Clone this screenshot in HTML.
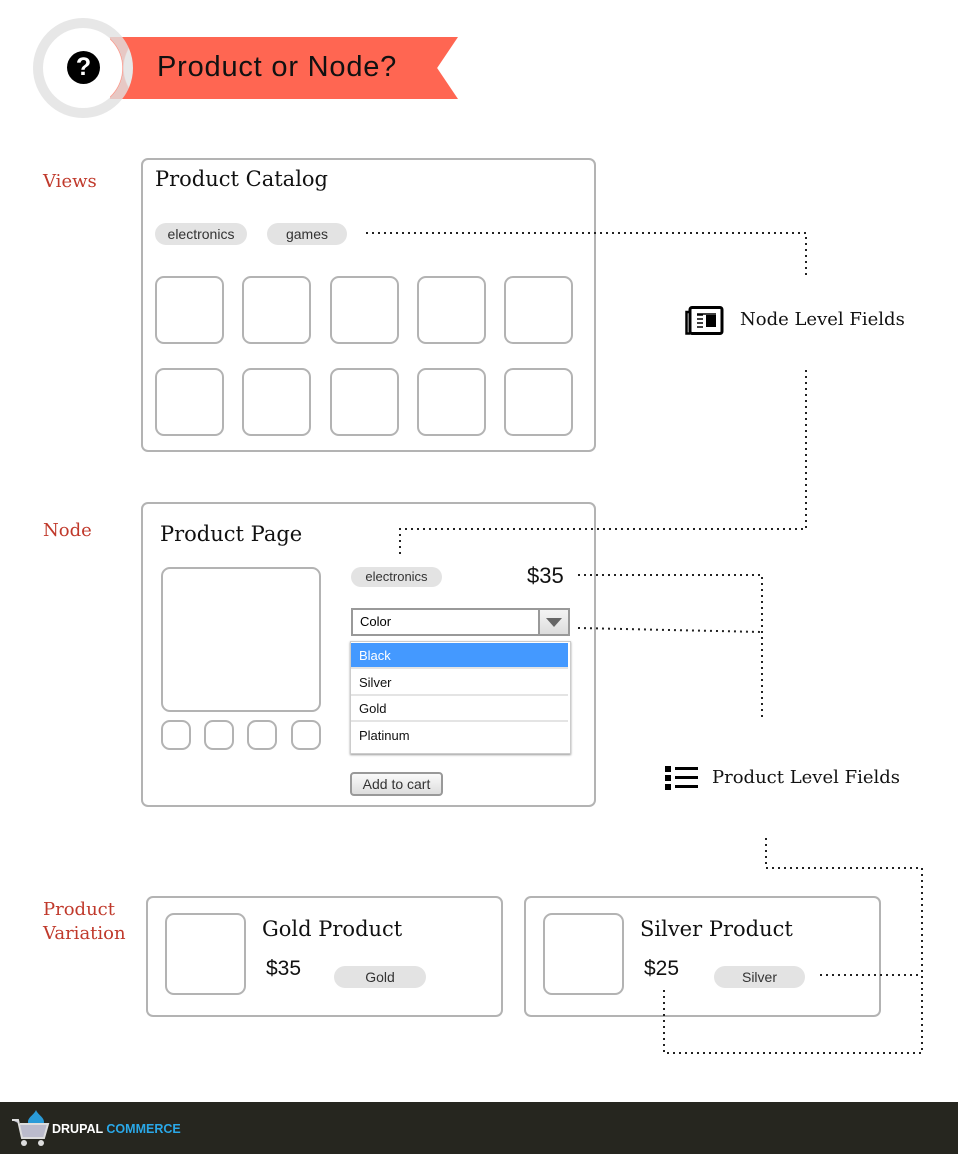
<!DOCTYPE html>
<html><head><meta charset="utf-8"><style>
body{margin:0;width:958px;height:1154px;position:relative;background:#fff;overflow:hidden;font-family:"Liberation Sans",sans-serif}
.a{position:absolute}
.box{position:absolute;border:2px solid #b3b3b3;border-radius:7px;box-sizing:border-box;background:#fff}
.t{position:absolute;border:2px solid #b3b3b3;border-radius:9px;box-sizing:border-box}
.lbl{position:absolute;color:#c0392b;font-family:"DejaVu Serif",serif;font-size:18px;line-height:24px}
.serif{font-family:"DejaVu Serif",serif;color:#111}
.pill{position:absolute;background:#e3e3e3;border-radius:11px;font-size:14px;color:#333;text-align:center;line-height:22px;height:22px}
.opt{position:absolute;left:351px;width:217px;height:26px;line-height:26px;font-size:13px;padding-left:8px;box-sizing:border-box;border-bottom:2px solid #e4e4e4;background:#fff;color:#111}
</style></head><body>
<div class="a" style="left:110px;top:37px;width:348px;height:62px;background:#ff6652;clip-path:polygon(0 0,100% 0,94% 50%,100% 100%,0 100%)"></div>
<div class="a" style="left:33px;top:18px;width:100px;height:100px;border-radius:50%;border:10px solid rgba(225,225,225,0.8);box-sizing:border-box;background:radial-gradient(circle,#fff 39px,transparent 40px)"></div>
<div class="a" style="left:67px;top:51px;width:33px;height:33px;border-radius:50%;background:#000;color:#fff;font-weight:bold;font-size:25px;text-align:center;line-height:33px">?</div>
<div class="a" style="left:157px;top:49px;font-size:29px;letter-spacing:0.8px;line-height:36px;color:#111">Product or Node?</div>

<div class="lbl" style="left:43px;top:170px">Views</div>
<div class="lbl" style="left:43px;top:519px">Node</div>
<div class="lbl" style="left:43px;top:898px">Product<br>Variation</div>

<div class="box" style="left:141px;top:158px;width:455px;height:294px"></div>
<div class="a serif" style="left:155px;top:167px;font-size:21px">Product Catalog</div>
<div class="pill" style="left:155px;top:223px;width:92px">electronics</div>
<div class="pill" style="left:267px;top:223px;width:80px">games</div>
<div class="t" style="left:155px;top:276px;width:69px;height:68px"></div>
<div class="t" style="left:242px;top:276px;width:69px;height:68px"></div>
<div class="t" style="left:330px;top:276px;width:69px;height:68px"></div>
<div class="t" style="left:417px;top:276px;width:69px;height:68px"></div>
<div class="t" style="left:504px;top:276px;width:69px;height:68px"></div>
<div class="t" style="left:155px;top:368px;width:69px;height:68px"></div>
<div class="t" style="left:242px;top:368px;width:69px;height:68px"></div>
<div class="t" style="left:330px;top:368px;width:69px;height:68px"></div>
<div class="t" style="left:417px;top:368px;width:69px;height:68px"></div>
<div class="t" style="left:504px;top:368px;width:69px;height:68px"></div>

<div class="box" style="left:141px;top:502px;width:455px;height:305px"></div>
<div class="a serif" style="left:160px;top:522px;font-size:21px">Product Page</div>
<div class="t" style="left:161px;top:567px;width:160px;height:145px"></div>
<div class="t" style="left:161px;top:720px;width:30px;height:30px"></div>
<div class="t" style="left:204px;top:720px;width:30px;height:30px"></div>
<div class="t" style="left:247px;top:720px;width:30px;height:30px"></div>
<div class="t" style="left:291px;top:720px;width:30px;height:30px"></div>
<div class="pill" style="left:351px;top:567px;width:91px;height:20px;line-height:20px;font-size:13px">electronics</div>
<div class="a" style="left:527px;top:563px;font-size:22px;color:#111">$35</div>
<div class="a" style="left:351px;top:608px;width:219px;height:28px;border:2px solid #999;box-sizing:border-box;background:#fff;font-size:13px;line-height:24px;padding-left:7px">Color</div>
<div class="a" style="left:538px;top:608px;width:32px;height:28px;border:2px solid #999;box-sizing:border-box;background:linear-gradient(#f4f4f4,#ddd)"></div>
<div class="a" style="left:546px;top:618px;width:0;height:0;border-left:8px solid transparent;border-right:8px solid transparent;border-top:9px solid #666"></div>
<div class="a" style="left:350px;top:641px;width:219px;height:111px;border:1px solid #ccc;box-shadow:0 1px 2px #999;background:#fff"></div>
<div class="opt" style="top:643px;background:#4499ff;color:#fff">Black</div>
<div class="opt" style="top:670px">Silver</div>
<div class="opt" style="top:696px">Gold</div>
<div class="opt" style="top:723px;border-bottom:none">Platinum</div>
<div class="a" style="left:350px;top:772px;width:93px;height:24px;border:2px solid #999;border-radius:4px;box-sizing:border-box;background:linear-gradient(#fafafa,#ddd);font-size:14px;line-height:20px;text-align:center;color:#333">Add to cart</div>

<div class="box" style="left:146px;top:896px;width:357px;height:121px"></div>
<div class="t" style="left:165px;top:913px;width:81px;height:82px"></div>
<div class="a serif" style="left:262px;top:917px;font-size:21px">Gold Product</div>
<div class="a" style="left:266px;top:957px;font-size:21px;color:#111">$35</div>
<div class="pill" style="left:334px;top:966px;width:92px">Gold</div>
<div class="box" style="left:524px;top:896px;width:357px;height:121px"></div>
<div class="t" style="left:543px;top:913px;width:81px;height:82px"></div>
<div class="a serif" style="left:640px;top:917px;font-size:21px">Silver Product</div>
<div class="a" style="left:644px;top:957px;font-size:21px;color:#111">$25</div>
<div class="pill" style="left:714px;top:966px;width:91px">Silver</div>

<svg class="a" style="left:685px;top:306px" width="40" height="30"><rect x="5" y="1.5" width="32" height="26" rx="2" fill="none" stroke="#000" stroke-width="3"/><path d="M5 6 H1.5 V27.5 H5" fill="none" stroke="#000" stroke-width="2.5"/><rect x="21" y="9" width="10" height="12" fill="#000"/><g stroke="#000" stroke-width="1.5"><line x1="12" y1="9" x2="18" y2="9"/><line x1="12" y1="13" x2="18" y2="13"/><line x1="12" y1="17" x2="18" y2="17"/><line x1="12" y1="21" x2="18" y2="21"/><line x1="12" y1="8" x2="31" y2="8"/></g></svg>
<div class="a serif" style="left:740px;top:309px;font-size:18px">Node Level Fields</div>
<svg class="a" style="left:665px;top:766px" width="34" height="26"><g fill="#000"><rect x="0" y="0" width="6" height="6"/><rect x="0" y="9" width="6" height="6"/><rect x="0" y="18" width="6" height="6"/><rect x="10" y="1" width="23" height="3"/><rect x="10" y="10" width="23" height="3"/><rect x="10" y="19" width="23" height="3"/></g></svg>
<div class="a serif" style="left:712px;top:767px;font-size:18px">Product Level Fields</div>

<svg class="a" style="left:0;top:0" width="958" height="1100"><g fill="none" stroke="#222" stroke-width="2" stroke-dasharray="2 4">
<polyline points="366,233 806,233 806,278"/>
<polyline points="806,370 806,529 400,529 400,557"/>
<polyline points="578,575 762,575 762,720"/>
<polyline points="578,628 762,632"/>
<polyline points="766,838 766,868 922,868 922,1053 664,1053 664,990"/>
<polyline points="820,975 922,975"/>
</g></svg>

<div class="a" style="left:0;top:1102px;width:958px;height:52px;background:#26261f"></div>
<svg class="a" style="left:10px;top:1108px" width="40" height="40"><path d="M26 2 C24 7 18 9 18 14 A8 8 0 0 0 34 14 C34 9 28 7 26 2Z" fill="#2a9bd8"/><path d="M2 12 H8 L12 30 H34 L38 16 H10" fill="#bbc" stroke="#ddd" stroke-width="2"/><circle cx="14" cy="35" r="3" fill="#ddd"/><circle cx="31" cy="35" r="3" fill="#ddd"/></svg>
<div class="a" style="left:52px;top:1122px;font-size:12.5px;font-weight:bold;color:#fff">DRUPAL <span style="color:#2aa8e8">COMMERCE</span></div>
</body></html>
